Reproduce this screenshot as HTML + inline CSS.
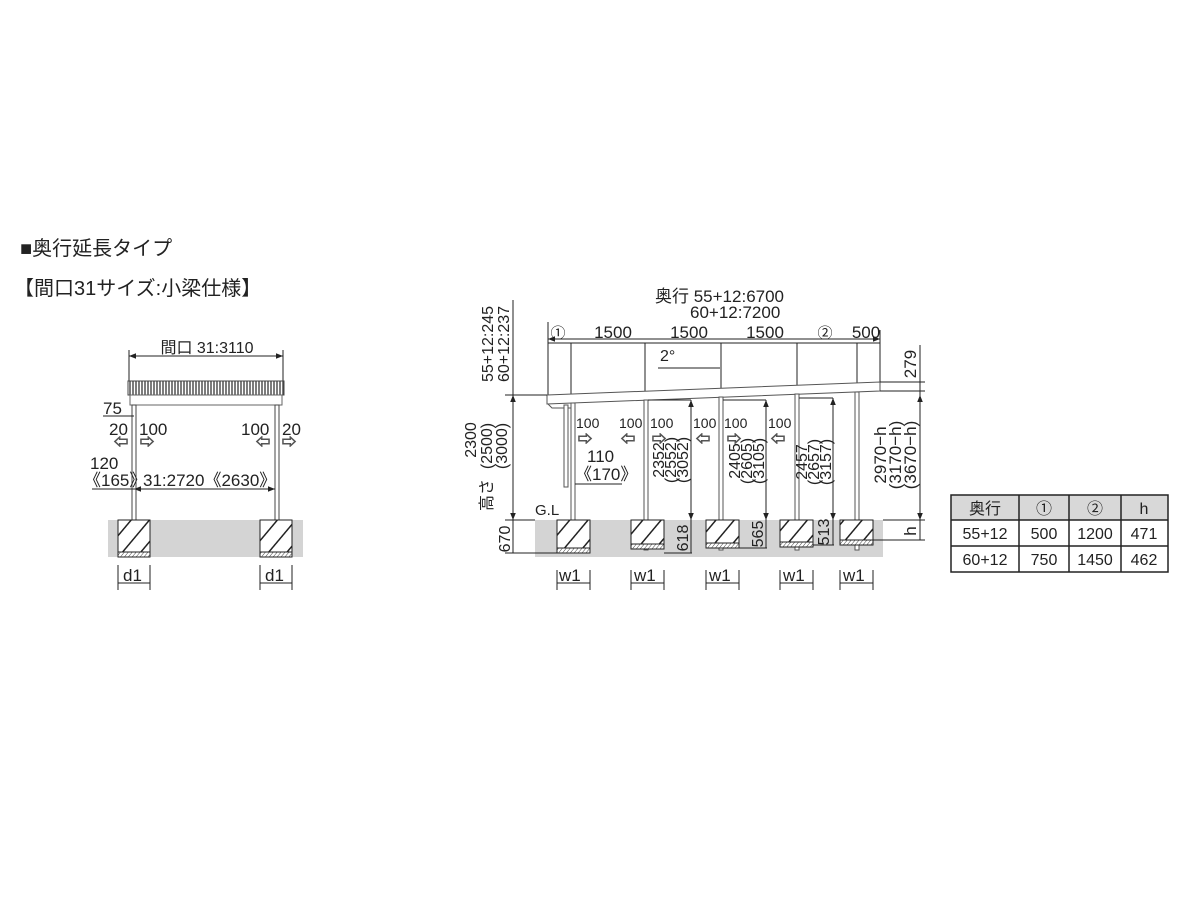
<!DOCTYPE html>
<html><head><meta charset="utf-8"><style>
html,body{margin:0;padding:0;background:#fff;}
svg{display:block;}
text{font-family:"Liberation Sans","Noto Sans CJK JP",sans-serif;fill:#222;}
</style></head><body>
<svg width="1200" height="900" viewBox="0 0 1200 900" xmlns="http://www.w3.org/2000/svg">
<defs>
<pattern id="vh" width="3" height="10" patternUnits="userSpaceOnUse"><rect width="3" height="10" fill="#fff"/><line x1="1" y1="0" x2="1" y2="10" stroke="#444" stroke-width="1.4"/></pattern>
<pattern id="dh" width="14" height="14" patternUnits="userSpaceOnUse" patternTransform="rotate(40)"><rect width="14" height="14" fill="#fff"/><line x1="0" y1="0" x2="0" y2="14" stroke="#222" stroke-width="3"/></pattern>
<pattern id="sh" width="3" height="6" patternUnits="userSpaceOnUse" patternTransform="rotate(40)"><rect width="3" height="6" fill="#fff"/><line x1="0" y1="0" x2="0" y2="6" stroke="#444" stroke-width="1"/></pattern>
<marker id="a" viewBox="0 0 10 10" refX="10" refY="5" markerWidth="7" markerHeight="7" orient="auto-start-reverse"><path d="M0,1 L10,5 L0,9z" fill="#222"/></marker>
</defs>

<text x="20" y="255" font-size="20">■奥行延長タイプ</text>
<text x="14" y="295" font-size="20">【間口31サイズ:小梁仕様】</text>

<!-- FRONT VIEW -->
<g stroke="#222" stroke-width="1" fill="none">
<line x1="129" y1="356" x2="283" y2="356" marker-start="url(#a)" marker-end="url(#a)"/>
<line x1="129" y1="350" x2="129" y2="382"/><line x1="283" y1="350" x2="283" y2="382"/>
</g>
<text x="207" y="353" font-size="16" text-anchor="middle">間口 31:3110</text>
<rect x="108" y="520" width="195" height="37" fill="#d4d4d4"/>
<rect x="128" y="381" width="156" height="14" fill="url(#vh)" stroke="#444"/>
<rect x="130" y="395" width="152" height="10" fill="#fff" stroke="#666"/>
<g stroke="#444" fill="none">
<rect x="132" y="405" width="4" height="125"/><rect x="275" y="405" width="4" height="125"/>
</g>
<rect x="118" y="520" width="32" height="32" fill="url(#dh)" stroke="#222"/>
<rect x="118" y="552" width="32" height="5" fill="url(#sh)" stroke="#222"/>
<rect x="260" y="520" width="32" height="32" fill="url(#dh)" stroke="#222"/>
<rect x="260" y="552" width="32" height="5" fill="url(#sh)" stroke="#222"/>
<g stroke="#222" stroke-width="1" fill="none">
<line x1="103" y1="416" x2="134" y2="416"/>
<line x1="92" y1="489" x2="134" y2="489"/>
<line x1="134" y1="489" x2="275" y2="489" marker-start="url(#a)" marker-end="url(#a)"/>
<line x1="118" y1="565" x2="118" y2="590"/><line x1="150" y1="565" x2="150" y2="590"/>
<line x1="260" y1="565" x2="260" y2="590"/><line x1="292" y1="565" x2="292" y2="590"/>
<line x1="118" y1="583" x2="150" y2="583"/><line x1="260" y1="583" x2="292" y2="583"/>
</g>
<g font-size="17">
<text x="103" y="414">75</text>
<text x="109" y="435">20</text><text x="139" y="435">100</text>
<text x="241" y="435">100</text><text x="282" y="435">20</text>
<text x="90" y="469">120</text><text x="84" y="486">《165》</text>
<text x="143" y="486">31:2720《2630》</text>
<text x="123" y="581">d1</text><text x="265" y="581">d1</text>
</g>
<g font-size="14" fill="#fff" stroke="#555"><text x="114" y="447" fill="#fff">⇦</text><text x="140" y="447" fill="#fff">⇨</text><text x="256" y="447" fill="#fff">⇦</text><text x="282" y="447" fill="#fff">⇨</text></g>

<!-- SIDE VIEW -->
<rect x="535" y="520" width="348" height="37" fill="#d4d4d4"/>
<g stroke="#222" stroke-width="1" fill="none">
<line x1="548" y1="339" x2="880" y2="339" marker-start="url(#a)" marker-end="url(#a)"/>
<line x1="548" y1="343" x2="880" y2="343"/>
<line x1="548" y1="322" x2="548" y2="395"/><line x1="880" y1="330" x2="880" y2="382"/>
<line x1="571" y1="343" x2="571" y2="400"/><line x1="645" y1="343" x2="645" y2="398"/>
<line x1="721" y1="343" x2="721" y2="396"/><line x1="797" y1="343" x2="797" y2="393"/><line x1="857" y1="343" x2="857" y2="392"/>
<line x1="658" y1="368" x2="720" y2="368"/>
<path d="M547,395 L880,382 L880,391 L547,404 Z" fill="#fff" stroke="#555"/>
<path d="M548,404 L552,408 L572,408" stroke="#555"/>
</g>
<text x="660" y="361" font-size="16">2°</text>
<g stroke="#555" fill="#fff">
<rect x="564" y="405" width="4" height="82"/><rect x="571" y="403" width="4" height="150"/>
<rect x="644" y="400" width="4" height="150"/><rect x="719" y="397" width="4" height="153"/>
<rect x="795" y="394" width="4" height="156"/><rect x="855" y="392" width="4" height="158"/>
</g>
<g stroke="#222">
<rect x="557" y="520" width="33" height="28" fill="url(#dh)"/><rect x="557" y="548" width="33" height="5" fill="url(#sh)"/>
<rect x="631" y="520" width="33" height="24" fill="url(#dh)"/><rect x="631" y="544" width="33" height="5" fill="url(#sh)"/>
<rect x="706" y="520" width="33" height="23" fill="url(#dh)"/><rect x="706" y="543" width="33" height="5" fill="url(#sh)"/>
<rect x="780" y="520" width="33" height="22" fill="url(#dh)"/><rect x="780" y="542" width="33" height="5" fill="url(#sh)"/>
<rect x="840" y="520" width="33" height="20" fill="url(#dh)"/><rect x="840" y="540" width="33" height="5" fill="url(#sh)"/>
</g>
<g stroke="#222" stroke-width="1" fill="none">
<line x1="513" y1="395" x2="513" y2="520" marker-start="url(#a)" marker-end="url(#a)"/>
<line x1="505" y1="395" x2="547" y2="395"/>
<line x1="505" y1="520" x2="535" y2="520"/>
<line x1="513" y1="520" x2="513" y2="553"/><line x1="505" y1="553" x2="557" y2="553"/>
<line x1="513" y1="300" x2="513" y2="395"/>
<line x1="920" y1="395" x2="920" y2="520" marker-start="url(#a)" marker-end="url(#a)"/>
<line x1="920" y1="345" x2="920" y2="540"/>
<line x1="880" y1="382" x2="925" y2="382"/><line x1="880" y1="391" x2="925" y2="391"/>
<line x1="873" y1="540" x2="925" y2="540"/><line x1="883" y1="520" x2="925" y2="520"/>
<line x1="691" y1="400" x2="691" y2="520" marker-start="url(#a)" marker-end="url(#a)"/>
<line x1="648" y1="400" x2="691" y2="400"/>
<line x1="766" y1="400" x2="766" y2="520" marker-start="url(#a)" marker-end="url(#a)"/>
<line x1="723" y1="400" x2="766" y2="400"/>
<line x1="833" y1="398" x2="833" y2="520" marker-start="url(#a)" marker-end="url(#a)"/>
<line x1="799" y1="398" x2="833" y2="398"/>
<line x1="691" y1="520" x2="691" y2="553"/><line x1="664" y1="553" x2="692" y2="553"/>
<line x1="766" y1="520" x2="766" y2="548"/><line x1="739" y1="548" x2="767" y2="548"/>
<line x1="833" y1="520" x2="833" y2="545"/><line x1="813" y1="545" x2="834" y2="545"/>
<line x1="575" y1="484" x2="622" y2="484"/>
<line x1="557" y1="570" x2="557" y2="590"/><line x1="590" y1="570" x2="590" y2="590"/><line x1="557" y1="583" x2="590" y2="583"/>
<line x1="631" y1="570" x2="631" y2="590"/><line x1="664" y1="570" x2="664" y2="590"/><line x1="631" y1="583" x2="664" y2="583"/>
<line x1="706" y1="570" x2="706" y2="590"/><line x1="739" y1="570" x2="739" y2="590"/><line x1="706" y1="583" x2="739" y2="583"/>
<line x1="780" y1="570" x2="780" y2="590"/><line x1="813" y1="570" x2="813" y2="590"/><line x1="780" y1="583" x2="813" y2="583"/>
<line x1="840" y1="570" x2="840" y2="590"/><line x1="873" y1="570" x2="873" y2="590"/><line x1="840" y1="583" x2="873" y2="583"/>
</g>
<g font-size="17">
<text x="655" y="302">奥行 55+12:6700</text>
<text x="690" y="318">60+12:7200</text>
<text x="558" y="338" font-size="15" text-anchor="middle">①</text>
<text x="613" y="338" text-anchor="middle">1500</text>
<text x="689" y="338" text-anchor="middle">1500</text>
<text x="765" y="338" text-anchor="middle">1500</text>
<text x="825" y="338" font-size="15" text-anchor="middle">②</text>
<text x="866" y="338" text-anchor="middle">500</text>
<text x="587" y="462">110</text>
<text x="575" y="480">《170》</text>
<text x="535" y="515" font-size="15">G.L</text>
<text x="559" y="581">w1</text><text x="634" y="581">w1</text><text x="709" y="581">w1</text><text x="783" y="581">w1</text><text x="843" y="581">w1</text>
</g>
<g font-size="14">
<text x="576" y="428">100</text><text x="619" y="428">100</text><text x="650" y="428">100</text>
<text x="693" y="428">100</text><text x="724" y="428">100</text><text x="768" y="428">100</text>
</g>
<g font-size="14" fill="#fff" stroke="#555"><text x="578" y="444" fill="#fff">⇨</text><text x="621" y="444" fill="#fff">⇦</text><text x="652" y="444" fill="#fff">⇨</text><text x="696" y="444" fill="#fff">⇦</text><text x="727" y="444" fill="#fff">⇨</text><text x="771" y="444" fill="#fff">⇦</text></g>
<g font-size="16">
<text transform="translate(493,344) rotate(-90)" text-anchor="middle">55+12:245</text>
<text transform="translate(509,344) rotate(-90)" text-anchor="middle">60+12:237</text>
<text transform="translate(476,440) rotate(-90)" text-anchor="middle">2300</text>
<text transform="translate(492,446) rotate(-90)" text-anchor="middle">(2500)</text>
<text transform="translate(507,446) rotate(-90)" text-anchor="middle">(3000)</text>
<text transform="translate(492,495) rotate(-90)" text-anchor="middle">高さ</text>
<text transform="translate(510,539) rotate(-90)" text-anchor="middle">670</text>
<text transform="translate(664,460) rotate(-90)" text-anchor="middle">2352</text>
<text transform="translate(676,460) rotate(-90)" text-anchor="middle">(2552)</text>
<text transform="translate(688,460) rotate(-90)" text-anchor="middle">(3052)</text>
<text transform="translate(688,538) rotate(-90)" text-anchor="middle">618</text>
<text transform="translate(740,461) rotate(-90)" text-anchor="middle">2405</text>
<text transform="translate(752,461) rotate(-90)" text-anchor="middle">(2605)</text>
<text transform="translate(764,461) rotate(-90)" text-anchor="middle">(3105)</text>
<text transform="translate(763,534) rotate(-90)" text-anchor="middle">565</text>
<text transform="translate(807,462) rotate(-90)" text-anchor="middle">2457</text>
<text transform="translate(819,462) rotate(-90)" text-anchor="middle">(2657)</text>
<text transform="translate(831,462) rotate(-90)" text-anchor="middle">(3157)</text>
<text transform="translate(829,532) rotate(-90)" text-anchor="middle">513</text>
<text transform="translate(886,455) rotate(-90)" text-anchor="middle" font-size="17">2970−h</text>
<text transform="translate(901,455) rotate(-90)" text-anchor="middle" font-size="17">(3170−h)</text>
<text transform="translate(916,455) rotate(-90)" text-anchor="middle" font-size="17">(3670−h)</text>
<text transform="translate(916,364) rotate(-90)" text-anchor="middle" font-size="17">279</text>
<text transform="translate(916,531) rotate(-90)" text-anchor="middle" font-size="17">h</text>
</g>

<!-- TABLE -->
<rect x="951" y="495" width="217" height="25" fill="#d8d8d8"/>
<g stroke="#222" stroke-width="1.5" fill="none">
<rect x="951" y="495" width="217" height="77"/>
<line x1="951" y1="520" x2="1168" y2="520"/><line x1="951" y1="546" x2="1168" y2="546"/>
<line x1="1019" y1="495" x2="1019" y2="572"/><line x1="1069" y1="495" x2="1069" y2="572"/><line x1="1121" y1="495" x2="1121" y2="572"/>
</g>
<g font-size="16" text-anchor="middle">
<text x="985" y="514">奥行</text><text x="1044" y="514">①</text><text x="1095" y="514">②</text><text x="1144" y="514">h</text>
<text x="985" y="539">55+12</text><text x="1044" y="539">500</text><text x="1095" y="539">1200</text><text x="1144" y="539">471</text>
<text x="985" y="565">60+12</text><text x="1044" y="565">750</text><text x="1095" y="565">1450</text><text x="1144" y="565">462</text>
</g>
</svg>
</body></html>
